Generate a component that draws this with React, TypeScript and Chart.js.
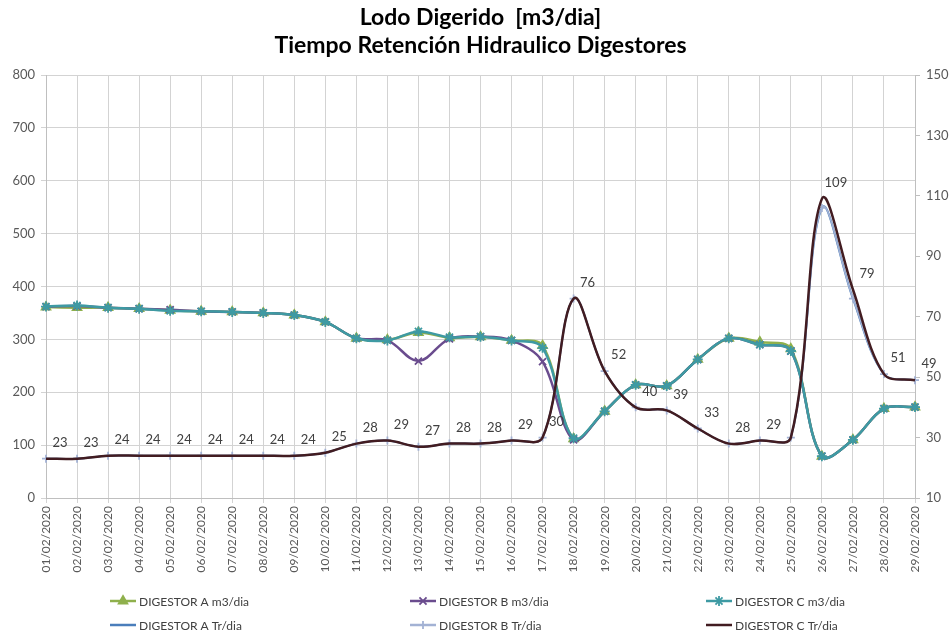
import React, { useEffect, useRef } from 'react';
import { Chart, registerables } from 'chart.js';
import { drawPoint } from 'chart.js/helpers';

Chart.register(...registerables);

const dates = [
  '01/02/2020', '02/02/2020', '03/02/2020', '04/02/2020', '05/02/2020', '06/02/2020', '07/02/2020',
  '08/02/2020', '09/02/2020', '10/02/2020', '11/02/2020', '12/02/2020', '13/02/2020', '14/02/2020',
  '15/02/2020', '16/02/2020', '17/02/2020', '18/02/2020', '19/02/2020', '20/02/2020', '21/02/2020',
  '22/02/2020', '23/02/2020', '24/02/2020', '25/02/2020', '26/02/2020', '27/02/2020', '28/02/2020',
  '29/02/2020',
];

const m3A = [361, 360, 360, 358, 355, 353, 352, 350, 346, 333, 302, 299, 313, 303, 305, 298, 288, 112, 164, 214, 212, 262, 302, 295, 282, 79, 110, 169, 172];
const m3B = [362, 363, 360, 358, 356, 353, 352, 350, 346, 333, 302, 298, 259, 301, 305, 298, 258, 110, 164, 214, 212, 262, 302, 290, 278, 79, 110, 169, 172];
const m3C = [362, 364, 360, 358, 354, 353, 352, 350, 346, 333, 302, 298, 315, 304, 305, 298, 284, 113, 164, 214, 212, 262, 302, 290, 278, 79, 110, 169, 172];

const trA = [23, 23, 24, 24, 24, 24, 24, 24, 24, 25, 28, 29, 27, 28, 28, 29, 30, 76, 52, 40, 39, 33, 28, 29, 30, 106, 76, 51, 49];
const trB = [23, 23, 24, 24, 24, 24, 24, 24, 24, 25, 28, 29, 27, 28, 28, 29, 30, 76, 52, 40, 39, 33, 28, 29, 30, 106, 76, 51, 49];
const trC = [23, 23, 24, 24, 24, 24, 24, 24, 24, 25, 28, 29, 27, 28, 28, 29, 30, 76, 52, 40, 39, 33, 28, 29, 30, 109, 79, 51, 49];

const trCLabels = ['23', '23', '24', '24', '24', '24', '24', '24', '24', '25', '28', '29', '27', '28', '28', '29', '30', '76', '52', '40', '39', '33', '28', '29', '', '109', '79', '51', '49'];

const seriesNames = [
  'DIGESTOR A m3/dia', 'DIGESTOR B m3/dia', 'DIGESTOR C m3/dia',
  'DIGESTOR A Tr/dia', 'DIGESTOR B Tr/dia', 'DIGESTOR C Tr/dia',
];

const titleLines = ['Lodo Digerido  [m3/dia]', 'Tiempo Retención Hidraulico Digestores'];

const leftMin = 0, leftMax = 800, leftStep = 100;
const rightMin = 10, rightMax = 150, rightStep = 20;

const FONT = 'Lato, "Open Sans", sans-serif';

const overlayPlugin = {
  id: 'overlay',
  afterDatasetsDraw(chart: any) {
    const ctx = chart.ctx;
    const meta = chart.getDatasetMeta(5);
    ctx.save();
    ctx.font = `13px ${FONT}`;
    ctx.fillStyle = '#404040';
    ctx.textAlign = 'center';
    ctx.textBaseline = 'middle';
    meta.data.forEach((pt: any, i: number) => {
      const t = trCLabels[i];
      if (!t) return;
      ctx.fillText(t, pt.x + 14, pt.y - 16);
    });
    ctx.restore();
  },
  afterDraw(chart: any) {
    const ctx = chart.ctx;
    const area = chart.chartArea;
    ctx.save();
    // title
    ctx.fillStyle = '#000000';
    ctx.font = `bold 23px ${FONT}`;
    ctx.textAlign = 'center';
    ctx.textBaseline = 'middle';
    const cx = (area.left + area.right) / 2;
    ctx.fillText(titleLines[0], cx, 18);
    ctx.fillText(titleLines[1], cx, 46);
    // legend
    const colX = [110, 410, 706];
    const rowY = [601, 625];
    ctx.font = `12px ${FONT}`;
    ctx.textAlign = 'left';
    chart.data.datasets.forEach((ds: any, i: number) => {
      const x = colX[i % 3];
      const y = rowY[Math.floor(i / 3)];
      ctx.strokeStyle = ds.borderColor;
      ctx.lineWidth = 2.5;
      ctx.beginPath();
      ctx.moveTo(x, y);
      ctx.lineTo(x + 26, y);
      ctx.stroke();
      if (ds.pointRadius > 0) {
        ctx.fillStyle = ds.pointBackgroundColor;
        ctx.strokeStyle = ds.pointBorderColor;
        ctx.lineWidth = ds.pointBorderWidth;
        drawPoint(ctx, { pointStyle: ds.pointStyle, radius: ds.pointRadius, rotation: 0, borderWidth: ds.pointBorderWidth }, x + 13, y);
      }
      ctx.fillStyle = '#404040';
      ctx.fillText(seriesNames[i], x + 29, y + 1);
    });
    ctx.restore();
  },
};

function mk(label: string, data: number[], axis: string, color: string, style: any, radius: number, width: number, order: number, pointFill?: string) {
  return {
    label,
    data,
    yAxisID: axis,
    borderColor: color,
    backgroundColor: color,
    borderWidth: width,
    pointStyle: style,
    pointRadius: radius,
    pointHoverRadius: radius,
    pointBackgroundColor: pointFill || color,
    pointBorderColor: color,
    pointBorderWidth: 1.8,
    tension: 0.35,
    fill: false,
    order,
  };
}

export default function App() {
  const ref = useRef<HTMLCanvasElement>(null);
  useEffect(() => {
    if (!ref.current) return;
    const tickFont = { family: FONT, size: 13 };
    const chart = new Chart(ref.current, {
      type: 'line',
      data: {
        labels: dates,
        datasets: [
          mk(seriesNames[0], m3A, 'y', '#8FB04C', 'triangle', 5, 2.5, 5),
          mk(seriesNames[1], m3B, 'y', '#6A4C8E', 'crossRot', 5, 2.5, 4),
          mk(seriesNames[2], m3C, 'y', '#3E9AA3', 'star', 5, 2.5, 3),
          mk(seriesNames[3], trA, 'y1', '#4A7EBB', 'line', 0, 2, 2),
          mk(seriesNames[4], trB, 'y1', '#A3B2D4', 'cross', 4, 1.5, 1),
          mk(seriesNames[5], trC, 'y1', '#421C21', 'circle', 0, 2.5, 0),
        ] as any,
      },
      options: {
        animation: false,
        responsive: false,
        layout: { padding: { top: 75, bottom: 60, left: 0, right: 0 } },
        plugins: {
          legend: { display: false },
          title: { display: false },
          tooltip: { enabled: false },
        },
        scales: {
          x: {
            type: 'category',
            offset: false,
            grid: { color: '#D3D3D3', lineWidth: 1, tickLength: 5, drawTicks: true },
            border: { color: '#BFBFBF' },
            ticks: {
              autoSkip: false,
              minRotation: 90,
              maxRotation: 90,
              font: { family: FONT, size: 12 },
              color: '#595959',
              padding: 3,
            },
            afterFit: (s: any) => { s.height = 75; },
          },
          y: {
            position: 'left',
            min: leftMin,
            max: leftMax,
            grid: { color: '#D3D3D3', lineWidth: 1, tickLength: 5 },
            border: { color: '#BFBFBF' },
            ticks: { stepSize: leftStep, font: tickFont, color: '#595959', padding: 6 },
            afterFit: (s: any) => { s.width = 46; },
          },
          y1: {
            position: 'right',
            min: rightMin,
            max: rightMax,
            grid: { drawOnChartArea: false, color: '#BFBFBF', tickLength: 5 },
            border: { color: '#BFBFBF' },
            ticks: { stepSize: rightStep, font: tickFont, color: '#595959', padding: 6 },
            afterFit: (s: any) => { s.width = 37; },
          },
        },
      } as any,
      plugins: [overlayPlugin],
    });
    return () => chart.destroy();
  }, []);
  return (
    <div style={{ position: 'absolute', left: 0, top: 0, width: 952, height: 633, background: '#ffffff' }}>
      <canvas ref={ref} width={952} height={633} style={{ display: 'block' }} />
    </div>
  );
}
